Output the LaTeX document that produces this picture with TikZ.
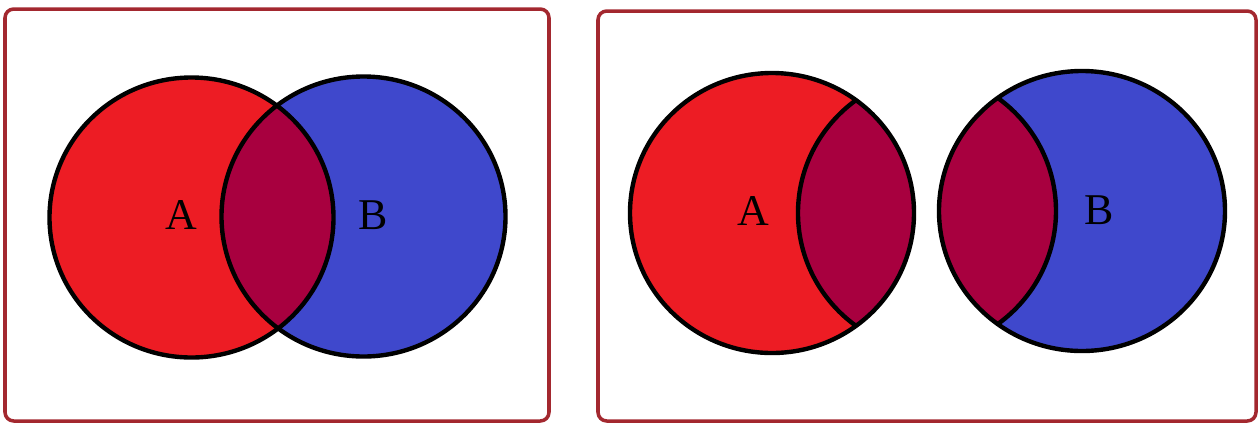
\documentclass[tikz,border=0pt]{standalone}
\usepackage{fontspec}
\setmainfont{Liberation Serif}
\usepackage{tikz}
\usetikzlibrary{positioning}

\definecolor{setA}{HTML}{ED1C24}
\definecolor{setB}{HTML}{3F48CC}
\definecolor{setAB}{HTML}{A8003F}
\definecolor{frame}{HTML}{A3282F}

\begin{document}
\begin{tikzpicture}[
    x=0.02cm, y=-0.02cm,
    panel/.style={draw=frame, line width=2pt, rounded corners=5pt},
    ring/.style={draw=black, line width=2.5pt},
    lbl/.style={font=\fontsize{25}{29}\selectfont, inner sep=0pt}
]
\useasboundingbox (0,0) rectangle (1259,424);

% left panel: overlapping sets
\draw[panel] (5,9) rectangle (549,421);
\coordinate (lA) at (191.5,217.5);
\coordinate (lB) at (363.5,216.5);
\fill[setA] (lA) ellipse[x radius=142, y radius=140];
\fill[setB] (lB) ellipse[x radius=142, y radius=140];
\begin{scope}
  \clip (lA) ellipse[x radius=142, y radius=140];
  \fill[setAB] (lB) ellipse[x radius=142, y radius=140];
\end{scope}
\draw[ring] (lA) ellipse[x radius=142, y radius=140];
\draw[ring] (lB) ellipse[x radius=142, y radius=140];
\node[lbl] (labA) at (181.5,214.5) {A};
\node[lbl] (labB) at (373.5,215) {B};

% right panel: sets pulled apart
\draw[panel] (598,11) rectangle (1256,421);
\coordinate (rA) at (772,213);
\coordinate (rB) at (1082,211);
\coordinate (cutA) at (940,213);
\coordinate (cutB) at (914,211);
\fill[setA] (rA) ellipse[x radius=142, y radius=140];
\begin{scope}
  \clip (rA) ellipse[x radius=142, y radius=140];
  \fill[setAB] (cutA) ellipse[x radius=142, y radius=140];
  \draw[ring] (cutA) ellipse[x radius=142, y radius=140];
\end{scope}
\draw[ring] (rA) ellipse[x radius=142, y radius=140];
\fill[setB] (rB) ellipse[x radius=143, y radius=140];
\begin{scope}
  \clip (rB) ellipse[x radius=143, y radius=140];
  \fill[setAB] (cutB) ellipse[x radius=142, y radius=140];
  \draw[ring] (cutB) ellipse[x radius=142, y radius=140];
\end{scope}
\draw[ring] (rB) ellipse[x radius=143, y radius=140];
\node[lbl] (labA2) at (753.5,211) {A};
\node[lbl] (labB2) at (1099,210.5) {B};
\end{tikzpicture}
\end{document}
